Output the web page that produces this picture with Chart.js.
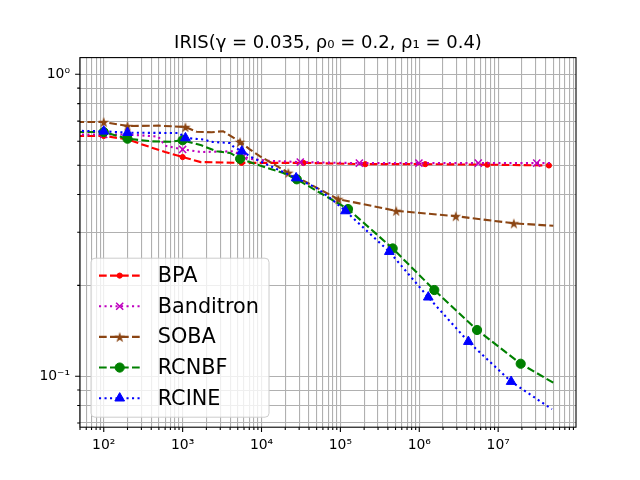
<!DOCTYPE html>
<html>
<head>
<meta charset="utf-8">
<script src="https://cdn.jsdelivr.net/npm/chart.js@4.4.1/dist/chart.umd.min.js"></script>
<style>body{margin:0;background:#fff}canvas{display:block}</style>
</head>
<body>
<canvas id="iris" width="640" height="480"></canvas>
<script>
const titleText = 'IRIS(γ = 0.035, ρ₀ = 0.2, ρ₁ = 0.4)';

// x ranges / ticks
const xMin = 50, xMax = 9.7e7;
const yMin = 0.0678, yMax = 1.136;
const xTicks = [];
for (let e = 1; e <= 7; e++) for (let m = 1; m <= 9; m++) {
  const v = m * Math.pow(10, e);
  if (v >= xMin && v <= xMax) xTicks.push(v);
}
const yTicks = [0.07, 0.08, 0.09, 0.1, 0.2, 0.3, 0.4, 0.5, 0.6, 0.7, 0.8, 0.9, 1];

// series (markIdx = points that carry a marker)
const bpaX = [45, 100, 200, 330, 600, 1000, 1700, 5600, 34000, 2.07e5, 1.19e6, 7.3e6, 4.4e7];
const bpaY = [0.625, 0.625, 0.609, 0.582, 0.553, 0.532, 0.512, 0.509, 0.509, 0.504, 0.504, 0.502, 0.499];
const bpaMarks = [1, 5, 7, 8, 9, 10, 11, 12];

const bandX = [45, 100, 200, 490, 600, 1000, 1700, 4400, 5900, 7200, 11700, 31000, 1.74e5, 9.9e5, 5.6e6, 3.08e7, 4.7e7];
const bandY = [0.632, 0.632, 0.632, 0.622, 0.580, 0.564, 0.553, 0.556, 0.535, 0.525, 0.5175, 0.512, 0.508, 0.508, 0.508, 0.508, 0.508];
const bandMarks = [1, 5, 8, 11, 12, 13, 14, 15];

const sobaX = [45, 100, 200, 500, 1085, 1510, 2340, 3260, 5355, 7170, 9600, 21900, 94000, 5.1e5, 2.9e6, 1.58e7, 5e7];
const sobaY = [0.695, 0.695, 0.674, 0.676, 0.669, 0.645, 0.643, 0.648, 0.597, 0.563, 0.535, 0.472, 0.386, 0.353, 0.339, 0.321, 0.315];
const sobaMarks = [1, 2, 4, 8, 11, 12, 13, 14, 15];

const rcnbfX = [45, 100, 200, 400, 700, 1000, 1730, 2710, 4000, 5355, 11660, 18950, 28000, 1.25e5, 4.6e5, 1.55e6, 5.4e6, 1.93e7, 5e7];
const rcnbfY = [0.644, 0.644, 0.612, 0.600, 0.598, 0.605, 0.582, 0.556, 0.549, 0.525, 0.490, 0.471, 0.449, 0.358, 0.265, 0.193, 0.1423, 0.110, 0.0952];
const rcnbfMarks = [1, 2, 5, 9, 12, 13, 14, 15, 16, 17];

const rcineX = [45, 100, 200, 900, 1085, 1900, 2230, 4000, 4365, 5625, 7830, 27480, 50200, 74000, 1.16e5, 4.17e5, 1.30e6, 4.19e6, 1.46e7, 4.8e7];
const rcineY = [0.650, 0.6475, 0.6407, 0.639, 0.6153, 0.608, 0.598, 0.592, 0.5775, 0.556, 0.528, 0.4535, 0.420, 0.3895, 0.3527, 0.2586, 0.1827, 0.1302, 0.0960, 0.0778];
const rcineMarks = [1, 2, 4, 9, 11, 14, 15, 16, 17, 18];

const dashed = [7.7, 3.3], dotted = [2.1, 3.4];

function starCanvas(color, r) {
  const c = document.createElement('canvas');
  const s = Math.ceil(r * 2 + 2);
  c.width = c.height = s;
  const g = c.getContext('2d');
  g.fillStyle = color;
  g.beginPath();
  for (let i = 0; i < 10; i++) {
    const rad = i % 2 ? r * 0.382 : r;
    const a = -Math.PI / 2 + i * Math.PI / 5;
    g.lineTo(s / 2 + rad * Math.cos(a), s / 2 + rad * Math.sin(a) + 0.6);
  }
  g.closePath();
  g.fill();
  return c;
}

function series(label, xs, ys, marks, color, dash, style, radius, order) {
  return {
    label,
    data: xs.map((x, i) => ({ x, y: ys[i] })),
    borderColor: color,
    backgroundColor: color,
    borderWidth: 2.1,
    borderDash: dash,
    borderCapStyle: 'butt',
    pointStyle: style,
    pointRadius: ctx => marks.includes(ctx.dataIndex) ? radius : 0,
    pointHoverRadius: 0,
    pointBorderColor: color,
    pointBackgroundColor: color,
    pointBorderWidth: style === 'crossRot' ? 1.5 : 1,
    tension: 0,
    fill: false,
    order,
    markerSize: radius
  };
}

const datasets = [
  series('BPA', bpaX, bpaY, bpaMarks, '#ff0000', dashed, 'circle', 2.6, 5),
  series('Banditron', bandX, bandY, bandMarks, '#bf00bf', dotted, 'crossRot', 5, 4),
  series('SOBA', sobaX, sobaY, sobaMarks, '#8b4513', dashed, starCanvas('#8b4513', 5.6), 5, 3),
  series('RCNBF', rcnbfX, rcnbfY, rcnbfMarks, '#008000', dashed, 'circle', 4.6, 2),
  series('RCINE', rcineX, rcineY, rcineMarks, '#0000ff', dotted, 'triangle', 5.6, 1)
];

const isDecade = v => Math.abs(Math.log10(v) - Math.round(Math.log10(v))) < 1e-9;
const sup = { '0': '⁰', '1': '¹', '2': '²', '3': '³', '4': '⁴', '5': '⁵', '6': '⁶', '7': '⁷', '8': '⁸', '9': '⁹', '-': '⁻' };
const powLabel = v => '10' + String(Math.round(Math.log10(v))).split('').map(c => sup[c]).join('');

function drawMarker(g, ds, x, y) {
  const r = ds.markerSize;
  g.save();
  g.setLineDash([]);
  g.fillStyle = ds.pointBackgroundColor;
  g.strokeStyle = ds.pointBorderColor;
  g.lineWidth = ds.pointBorderWidth;
  const st = ds.pointStyle;
  if (typeof st === 'object') {
    g.drawImage(st, x - st.width / 2, y - st.height / 2);
  } else if (st === 'circle') {
    g.beginPath(); g.arc(x, y, r, 0, Math.PI * 2); g.fill(); g.stroke();
  } else if (st === 'triangle') {
    g.beginPath();
    for (let i = 0; i < 3; i++) {
      const a = -Math.PI / 2 + i * 2 * Math.PI / 3;
      g.lineTo(x + r * Math.cos(a), y + r * Math.sin(a));
    }
    g.closePath(); g.fill(); g.stroke();
  } else if (st === 'crossRot') {
    const d = r * Math.SQRT1_2;
    g.beginPath();
    g.moveTo(x - d, y - d); g.lineTo(x + d, y + d);
    g.moveTo(x - d, y + d); g.lineTo(x + d, y - d);
    g.stroke();
  }
  g.restore();
}

const framePlugin = {
  id: 'frame',
  afterDraw(chart) {
    const g = chart.ctx, a = chart.chartArea;
    const xs = chart.scales.x, ys = chart.scales.y;
    g.save();
    // title
    g.fillStyle = '#000';
    g.font = '18px "DejaVu Sans"';
    g.textAlign = 'center';
    g.textBaseline = 'alphabetic';
    g.fillText(titleText, (a.left + a.right) / 2, a.top - 9.3);
    // tick marks
    g.strokeStyle = '#000';
    g.lineWidth = 1.1;
    g.beginPath();
    xTicks.forEach(v => {
      const p = xs.getPixelForValue(v), len = isDecade(v) ? 4.9 : 2.8;
      g.moveTo(p, a.bottom); g.lineTo(p, a.bottom + len);
    });
    yTicks.forEach(v => {
      const p = ys.getPixelForValue(v), len = isDecade(v) ? 4.9 : 2.8;
      g.moveTo(a.left, p); g.lineTo(a.left - len, p);
    });
    g.stroke();
    g.strokeRect(a.left, a.top, a.right - a.left, a.bottom - a.top);

    // legend (lower left, matplotlib style)
    g.font = '20.8px "DejaVu Sans"';
    const textW = Math.max(...datasets.map(d => g.measureText(d.label).width));
    const bx = a.left + 11, bw = 66.7 + textW + 10, bh = 159;
    const by = a.bottom - 10 - bh;
    g.beginPath();
    g.roundRect(bx, by, bw, bh, 4);
    g.fillStyle = 'rgba(255,255,255,0.8)';
    g.fill();
    g.strokeStyle = '#cccccc';
    g.lineWidth = 1;
    g.stroke();
    datasets.forEach((d, i) => {
      const ry = by + 17.4 + i * 30.65;
      g.save();
      g.strokeStyle = d.borderColor;
      g.lineWidth = d.borderWidth;
      g.lineCap = 'butt';
      g.setLineDash(d.borderDash);
      g.beginPath(); g.moveTo(bx + 8, ry); g.lineTo(bx + 49.5, ry); g.stroke();
      g.restore();
      drawMarker(g, d, bx + 28.7, ry);
      g.fillStyle = '#000';
      g.textAlign = 'left';
      g.textBaseline = 'middle';
      g.fillText(d.label, bx + 66.7, ry + 1);
    });
    g.restore();
  }
};

new Chart(document.getElementById('iris'), {
  type: 'line',
  data: { datasets },
  options: {
    responsive: false,
    animation: false,
    events: [],
    layout: { padding: { top: 57.6, right: 64, bottom: 0, left: 0 } },
    plugins: { legend: { display: false }, tooltip: { enabled: false }, title: { display: false } },
    scales: {
      x: {
        type: 'logarithmic',
        min: xMin, max: xMax,
        afterBuildTicks: s => { s.ticks = xTicks.map(v => ({ value: v })); },
        afterFit: s => { s.height = 52.8; },
        grid: { color: '#b0b0b0', lineWidth: 1.1, drawTicks: false },
        border: { display: false },
        ticks: {
          autoSkip: false, maxRotation: 0, padding: 10, color: '#000',
          font: { family: 'DejaVu Sans', size: 13.9 },
          callback: v => isDecade(v) ? powLabel(v) : ''
        }
      },
      y: {
        type: 'logarithmic',
        min: yMin, max: yMax,
        afterBuildTicks: s => { s.ticks = yTicks.map(v => ({ value: v })); },
        afterFit: s => { s.width = 80; },
        grid: { color: '#b0b0b0', lineWidth: 1.1, drawTicks: false },
        border: { display: false },
        ticks: {
          autoSkip: false, padding: 10, color: '#000',
          font: { family: 'DejaVu Sans', size: 13.9 },
          callback: v => isDecade(v) ? powLabel(v) : ''
        }
      }
    }
  },
  plugins: [framePlugin]
});
</script>
</body>
</html>
